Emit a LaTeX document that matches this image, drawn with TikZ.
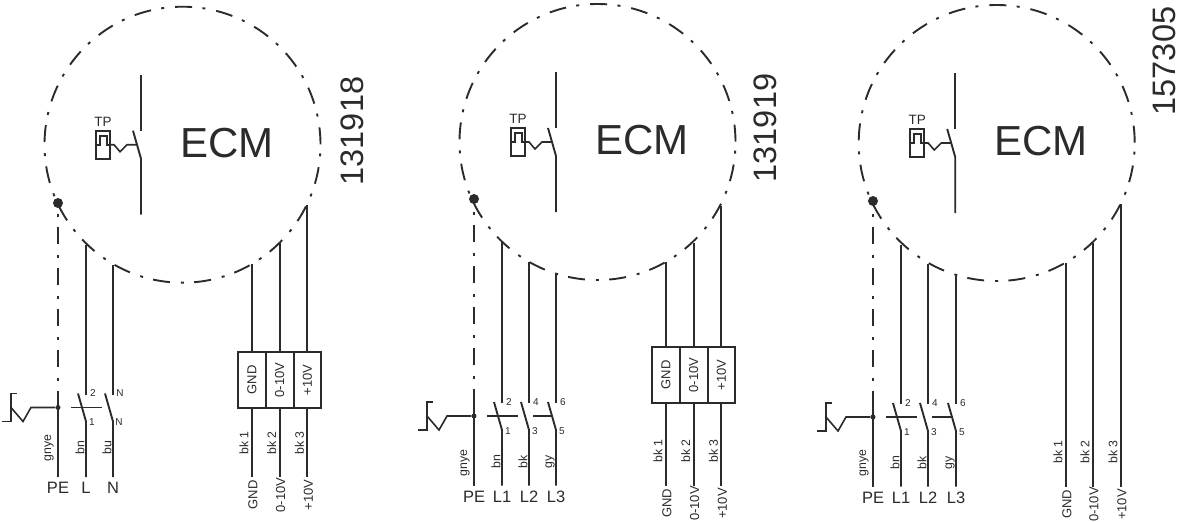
\documentclass[tikz,border=0pt]{standalone}
\usepackage{fontspec}
\usepackage{graphicx}
\setmainfont{Liberation Sans}
\definecolor{ink}{HTML}{2B2B2B}

\tikzset{
	wire/.style={line width=1.9pt, draw=ink},
	thinwire/.style={line width=1.6pt, draw=ink},
	casing/.style={draw=ink, circle, minimum size=276pt, inner sep=0pt, outer sep=0pt, line width=1.9pt, dash pattern=on 17pt off 11pt on 3pt off 10.36pt, dash phase=41pt},
	earthwire/.style={wire, dash pattern=on 17pt off 11pt on 3pt off 10pt, dash phase=#1},
	junction/.style={fill=ink, circle, inner sep=0pt, minimum size=#1},
	vtext/.style={rotate=90, inner sep=0pt, text=ink, font=\fontsize{#1}{#1}\selectfont},
	htext/.style={inner sep=0pt, text=ink, font=\fontsize{#1}{#1}\selectfont},
	cell/.style={draw=ink, line width=1.9pt, minimum width=27.7pt, minimum height=56pt, inner sep=0pt, outer sep=0pt, text=ink, font=\fontsize{13}{13}\selectfont},
	tpbox/.style={draw=ink, line width=1.6pt, minimum width=14pt, minimum height=28pt, inner sep=0pt, outer sep=0pt}
}

\newcommand{\ecmhead}[6]{
	\node[casing] (#1-casing) at (#2,#3) {};
	\node[htext=42] (#1-ecm) at ({#2+#6},{#3-1.5}) {ECM};
	\node[vtext=32.5] (#1-number) at (#4,#5) {\ecmnumber};
	\begin{scope}[shift={(#2,#3)}]
		\node[tpbox] (#1-tp) at (-79.5,0) {};
		\node[htext=13.5] (#1-tplabel) at (-79.5,-23) {TP};
		\draw[thinwire] (#1-tp.west) -- ++(4,0) -- ++(0,-9) -- ++(7,0) -- ++(0,9) -- (#1-tp.east);
		\coordinate (#1-up) at (-41.5,-70);
		\coordinate (#1-upend) at (-41.5,-14);
		\coordinate (#1-bladetop) at (-49.5,-14);
		\coordinate (#1-bladeend) at (-41.5,14);
		\coordinate (#1-bladelink) at (-45.5,0);
		\coordinate (#1-down) at (-41.5,70);
		\draw[wire] (#1-up) -- (#1-upend);
		\draw[wire] (#1-bladetop) -- (#1-bladeend) -- (#1-down);
		\draw[thinwire] (#1-tp.east) -- ++(4,0) -- ++(6,7) -- ++(7,-7) -- (#1-bladelink);
	\end{scope}
}

\newcommand{\ecmearth}[8]{
	\node[junction=10pt] (#1-dot) at (#2,#3) {};
	\node[junction=5pt] (#1-node) at (#2,#4) {};
	\coordinate (#1-solid) at (#2,#5);
	\coordinate (#1-end) at (#2,{#4+69.5});
	\draw[earthwire=#6] (#1-dot.center) -- (#1-solid);
	\draw[wire] (#1-solid) -- (#1-end);
	\draw[thinwire] ({#2-56},{#4+14}) -- ({#2-47},{#4+14}) -- ({#2-47},{#4-14}) -- ({#2-41},{#4-14});
	\draw[thinwire] ({#2-47},#4) -- ({#2-35},{#4+14}) -- ({#2-27},#4) -- (#1-node);
	\node[vtext=12.3, anchor=west] (#1-colour) at ({#2-9},#7) {gnye};
	\node[htext=16.5] (#1-term) at (#2,{#4+80.5}) {#8};
}

\newcommand{\ecmpole}[9]{
	\coordinate (#1-top) at (#2,#3);
	\coordinate (#1-open) at (#2,{#4-13});
	\coordinate (#1-close) at (#2,{#4+14});
	\coordinate (#1-blade) at ({#2-8},{#4-14});
	\coordinate (#1-mid) at ({#2-4},#4);
	\coordinate (#1-end) at (#2,{#4+69.5});
	\draw[wire] (#1-top) -- (#1-open);
	\draw[wire] (#1-blade) -- (#1-close) -- (#1-end);
	\node[htext=10] (#1-upper) at ({#2+7},{#4-14}) {#5};
	\node[htext=10] (#1-lower) at ({#2+6},{#4+15}) {#6};
	\node[vtext=12.3, anchor=west] (#1-colour) at ({#2-6},#8) {#7};
	\node[htext=16.5] (#1-term) at (#2,{#4+80.5}) {#9};
}

\newcommand{\ecmcell}[5]{
	\node[cell] (#1) at (#2,#4) {\rotatebox{90}{#5}};
	\coordinate (#1-top) at (#2,#3);
	\draw[wire] (#1-top) -- (#1.north);
}

\newcommand{\ecmsignal}[6]{
	\coordinate (#2-end) at (#3,#4);
	\draw[wire] (#1) -- (#2-end);
	\node[vtext=12.3, anchor=west] (#2-colour) at ({#3-8},#5) {bk \ecmcount};
	\node[vtext=13] (#2-term) at ({#3+1},{#4+18}) {#6};
}

\begin{document}
\begin{tikzpicture}[x=1pt, y=-1pt]
	\useasboundingbox (0,0) rectangle (1178,522);

	\def\ecmnumber{131918}
	\ecmhead{a}{182.5}{144.7}{352}{131}{44.5}
	\ecmearth{apeh}{58}{203}{407.5}{396}{17}{461.5}{PE}
	\ecmpole{a1}{86}{244.5}{407.5}{2}{1}{bn}{455}{L}
	\ecmpole{a2}{113}{265}{407.5}{N}{N}{bu}{455}{N}
	\draw[thinwire] ([xshift=-11pt]a1-mid) -- ([xshift=20pt]a1-mid);
	\ecmcell{a-gnd}{252}{264}{380}{GND}
	\ecmcell{a-ten}{279.7}{243}{380}{0-10V}
	\ecmcell{a-ref}{307.4}{205}{380}{+10V}
	\def\ecmcount{1}\ecmsignal{a-gnd.south}{a-s1}{252}{477}{455}{GND}
	\def\ecmcount{2}\ecmsignal{a-ten.south}{a-s2}{279.7}{477}{455}{0-10V}
	\def\ecmcount{3}\ecmsignal{a-ref.south}{a-s3}{307.4}{477}{455}{+10V}

	\def\ecmnumber{131919}
	\ecmhead{b}{597.5}{142}{765}{128}{44.5}
	\ecmearth{bpeh}{474}{199}{416}{402}{15}{476.5}{PE}
	\ecmpole{b1}{502}{241.5}{416}{2}{1}{bn}{469}{L1}
	\ecmpole{b2}{529}{261.7}{416}{4}{3}{bk}{469}{L2}
	\ecmpole{b3}{556}{273.5}{416}{6}{5}{gy}{469}{L3}
	\draw[thinwire] ([xshift=-11pt]b1-mid) -- ([xshift=20pt]b1-mid);
	\draw[thinwire] ([xshift=8pt]b2-mid) -- (b3-mid);
	\ecmcell{b-gnd}{666}{262}{375}{GND}
	\ecmcell{b-ten}{693.7}{242.5}{375}{0-10V}
	\ecmcell{b-ref}{721.4}{205.7}{375}{+10V}
	\def\ecmcount{1}\ecmsignal{b-gnd.south}{b-s1}{666}{485.5}{463}{GND}
	\def\ecmcount{2}\ecmsignal{b-ten.south}{b-s2}{693.7}{485.5}{463}{0-10V}
	\def\ecmcount{3}\ecmsignal{b-ref.south}{b-s3}{721.4}{485.5}{463}{+10V}

	\def\ecmnumber{157305}
	\ecmhead{c}{996.7}{143}{1164}{61}{44.5}
	\ecmearth{cpeh}{873}{201}{417}{402}{15}{476.5}{PE}
	\ecmpole{c1}{901}{244.5}{417}{2}{1}{bn}{470}{L1}
	\ecmpole{c2}{928}{264}{417}{4}{3}{bk}{470}{L2}
	\ecmpole{c3}{956}{276}{417}{6}{5}{gy}{470}{L3}
	\draw[thinwire] ([xshift=-11pt]c1-mid) -- ([xshift=20pt]c1-mid);
	\draw[thinwire] ([xshift=8pt]c2-mid) -- (c3-mid);
	\coordinate (c-t1) at (1066,263);
	\coordinate (c-t2) at (1093,242.6);
	\coordinate (c-t3) at (1121,204);
	\def\ecmcount{1}\ecmsignal{c-t1}{c-s1}{1066}{486.5}{464}{GND}
	\def\ecmcount{2}\ecmsignal{c-t2}{c-s2}{1093}{486.5}{464}{0-10V}
	\def\ecmcount{3}\ecmsignal{c-t3}{c-s3}{1121}{486.5}{464}{+10V}
\end{tikzpicture}
\end{document}
